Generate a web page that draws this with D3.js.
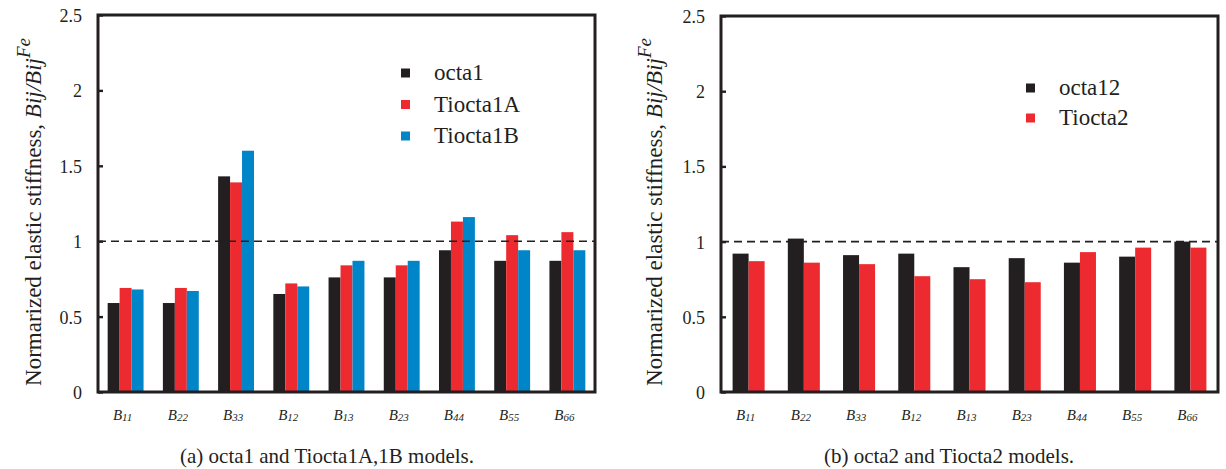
<!DOCTYPE html>
<html>
<head>
<meta charset="utf-8">
<script src="https://cdn.jsdelivr.net/npm/d3@7"></script>
<style>
  html, body { margin: 0; padding: 0; background: #fff; }
  svg { display: block; }
  svg text { font-family: "Liberation Serif", "Times New Roman", Times, "DejaVu Serif", serif !important; fill: #231f20; }
</style>
</head>
<body>
<svg id="chart" width="1226" height="469" font-family="Liberation Serif, Times New Roman, serif"></svg>
<script>
// Elastic stiffness components (B_ij), normalized by the Fe reference value
const categories = ["11", "22", "33", "12", "13", "23", "44", "55", "66"];

const seriesA = ["octa1", "Tiocta1A", "Tiocta1B"];
const octa1    = [0.59, 0.59, 1.43, 0.65, 0.76, 0.76, 0.94, 0.87, 0.87];
const tiocta1A = [0.69, 0.69, 1.39, 0.72, 0.84, 0.84, 1.13, 1.04, 1.06];
const tiocta1B = [0.68, 0.67, 1.60, 0.70, 0.87, 0.87, 1.16, 0.94, 0.94];

const seriesB = ["octa12", "Tiocta2"];
const octa12  = [0.92, 1.02, 0.91, 0.92, 0.83, 0.89, 0.86, 0.90, 1.00];
const tiocta2 = [0.87, 0.86, 0.85, 0.77, 0.75, 0.73, 0.93, 0.96, 0.96];

const yTicks = [0, 0.5, 1, 1.5, 2, 2.5];
const yTickLabels = ["0", "0.5", "1", "1.5", "2", "2.5"];
const referenceLevel = 1;

const captions = ["(a) octa1 and Tiocta1A,1B models.", "(b) octa2 and Tiocta2 models."];

const colors = ["#231f20", "#ed2a2f", "#0085c8"];
const ink = "#231f20";
const serif = '"Liberation Serif", "Times New Roman", Times, "DejaVu Serif", serif';

const svg = d3.select("#chart");

function drawPanel(opt) {
  const g = svg.append("g").style("font-family", serif);
  const x = d3.scaleBand().domain(categories)
    .range([opt.left, opt.right])
    .paddingInner(opt.pad).paddingOuter(opt.pad / 2);
  const xs = d3.scaleBand().domain(opt.names).range([0, x.bandwidth()]);
  const y = d3.scaleLinear().domain([0, 2.5]).range([opt.bottom, opt.top]);

  // bars
  opt.names.forEach((name, si) => {
    g.append("g").selectAll("rect")
      .data(opt.values[si])
      .join("rect")
      .attr("x", (d, i) => x(categories[i]) + xs(name))
      .attr("y", d => y(d))
      .attr("width", xs.bandwidth())
      .attr("height", d => y(0) - y(d))
      .attr("fill", colors[si]);
  });

  // reference line at Bij/Bij^Fe = 1
  g.append("line")
    .attr("x1", opt.left).attr("x2", opt.right)
    .attr("y1", y(referenceLevel)).attr("y2", y(referenceLevel))
    .attr("stroke", ink).attr("stroke-width", 1.6)
    .attr("stroke-dasharray", "8,5");

  // frame
  g.append("rect")
    .attr("x", opt.left).attr("y", opt.top)
    .attr("width", opt.right - opt.left).attr("height", opt.bottom - opt.top)
    .attr("fill", "none").attr("stroke", ink).attr("stroke-width", 3);

  // y axis with inward ticks
  const yAxis = d3.axisLeft(y).tickValues(yTicks)
    .tickSize(-5).tickPadding(16)
    .tickFormat((d, i) => yTickLabels[i]);
  const ya = g.append("g").attr("transform", `translate(${opt.left},0)`).call(yAxis)
    .attr("font-family", serif);
  ya.select(".domain").remove();
  ya.selectAll(".tick line").attr("stroke", ink).attr("stroke-width", 2.4);
  ya.selectAll(".tick text")
    .style("font-size", "18px").attr("fill", ink).attr("dy", "0.36em");

  // category labels B_ij
  const xl = g.append("g").selectAll("text").data(categories).join("text")
    .attr("x", d => x(d) + x.bandwidth() / 2 - 3)
    .attr("y", 420)
    .attr("text-anchor", "middle")
    .style("font-style", "italic");
  xl.append("tspan").style("font-size", "15px").text("B");
  xl.append("tspan").style("font-size", "11px").attr("dy", 1).text(d => d);

  // y axis title
  const yt = g.append("text")
    .attr("transform", `translate(${opt.titleX},${opt.titleY}) rotate(-90)`)
    .attr("text-anchor", "middle")
    .style("font-size", "23px");
  yt.append("tspan").text("Normarized elastic stiffness, ");
  yt.append("tspan").style("font-style", "italic").text("Bij/Bij");
  yt.append("tspan").style("font-style", "italic").style("font-size", "19px")
    .attr("dy", -11).text("Fe");

  // legend
  const lg = g.append("g");
  opt.names.forEach((name, si) => {
    const cy = opt.legendY + si * opt.legendStep;
    lg.append("rect")
      .attr("x", opt.legendX).attr("y", cy - 4.5)
      .attr("width", 9).attr("height", 9)
      .attr("fill", colors[si]);
    lg.append("text")
      .attr("x", opt.legendX + 33).attr("y", cy + 7)
      .style("font-size", "23px").text(name);
  });

  // caption
  g.append("text")
    .attr("x", opt.captionX).attr("y", 463)
    .attr("text-anchor", "middle")
    .style("font-size", "21px")
    .text(opt.caption);
}

drawPanel({
  left: 98, right: 595, top: 15, bottom: 392,
  pad: 0.35,
  names: seriesA, values: [octa1, tiocta1A, tiocta1B],
  titleX: 41, titleY: 212,
  legendX: 401, legendY: 73, legendStep: 31.5,
  captionX: 327, caption: captions[0]
});

drawPanel({
  left: 721, right: 1218, top: 16, bottom: 392,
  pad: 0.42,
  names: seriesB, values: [octa12, tiocta2],
  titleX: 662, titleY: 212,
  legendX: 1026, legendY: 88, legendStep: 30,
  captionX: 949, caption: captions[1]
});
</script>
</body>
</html>
